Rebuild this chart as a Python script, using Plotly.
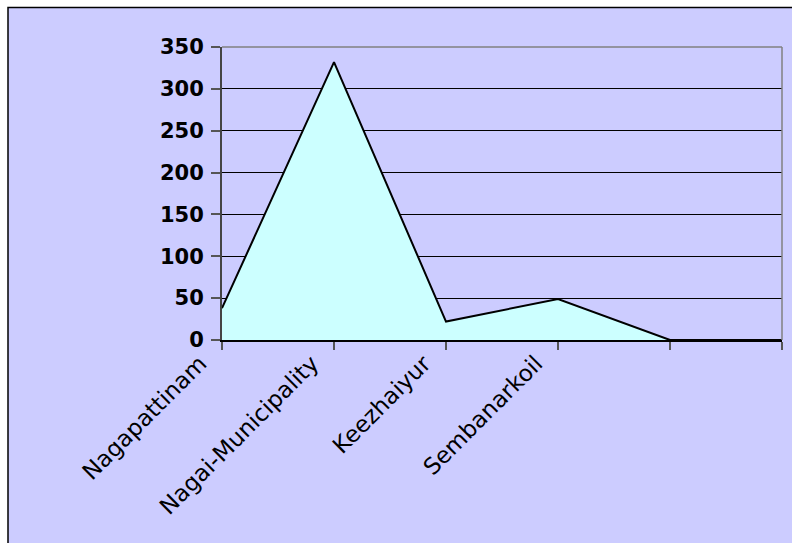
import plotly.graph_objects as go

categories = ["Nagapattinam", "Nagai-Municipality", "Keezhaiyur", "Sembanarkoil", "", ""]
values = [38, 332, 22, 49, 0, 0]
y_ticks = [0, 50, 100, 150, 200, 250, 300, 350]

W, H = 792, 543
L, R, T, B = 222, 10, 47, 203
pw = W - L - R
ph = H - T - B

x_idx = list(range(len(categories)))

fig = go.Figure()
fig.add_trace(go.Scatter(
    x=x_idx, y=values, mode="lines", fill="tozeroy",
    fillcolor="#CCFFFF", line=dict(color="black", width=2),
    hoverinfo="skip", showlegend=False,
))

# lavender background with black border (left/top)
fig.add_shape(type="rect", xref="paper", yref="paper",
              x0=(8 - L) / pw, x1=(W + 5 - L) / pw,
              y0=-(H + 5 - T - ph) / ph, y1=(ph + T - 7.5) / ph,
              fillcolor="#CCCCFF", line=dict(color="black", width=1.5), layer="below")
# plot area top/right border
fig.add_shape(type="line", xref="paper", yref="paper", x0=0, x1=1, y0=1, y1=1,
              line=dict(color="#808080", width=1.5), layer="above")
fig.add_shape(type="line", xref="paper", yref="paper", x0=1, x1=1, y0=0, y1=1,
              line=dict(color="#808080", width=1.5), layer="above")

fig.update_layout(
    width=W, height=H,
    margin=dict(l=L, r=R, t=T, b=B, pad=0),
    paper_bgcolor="white",
    plot_bgcolor="#FFFFCC",
    font=dict(family="DejaVu Sans, Arial, sans-serif", color="black"),
    showlegend=False,
    xaxis=dict(
        range=[0, len(categories) - 1],
        tickmode="array", tickvals=x_idx, ticktext=categories,
        tickangle=-45, tickfont=dict(size=23, family="DejaVu Sans, sans-serif"),
        ticks="outside", ticklen=8, tickcolor="#555555", tickwidth=1.5,
        ticklabelshift=-22, ticklabelstandoff=-9,
        showgrid=False, zeroline=False,
        showline=True, linecolor="black", linewidth=2,
    ),
    yaxis=dict(
        range=[0, 350],
        tickmode="array", tickvals=y_ticks, ticktext=[str(v) for v in y_ticks],
        tickfont=dict(size=21, family="DejaVu Sans, sans-serif", weight="bold"),
        ticks="outside", ticklen=9, tickcolor="#555555", tickwidth=1.5,
        showgrid=True, gridcolor="black", gridwidth=1,
        zeroline=False,
        showline=True, linecolor="#444444", linewidth=2,
        ticklabelstandoff=3,
    ),
)

fig.write_html("out.html")
